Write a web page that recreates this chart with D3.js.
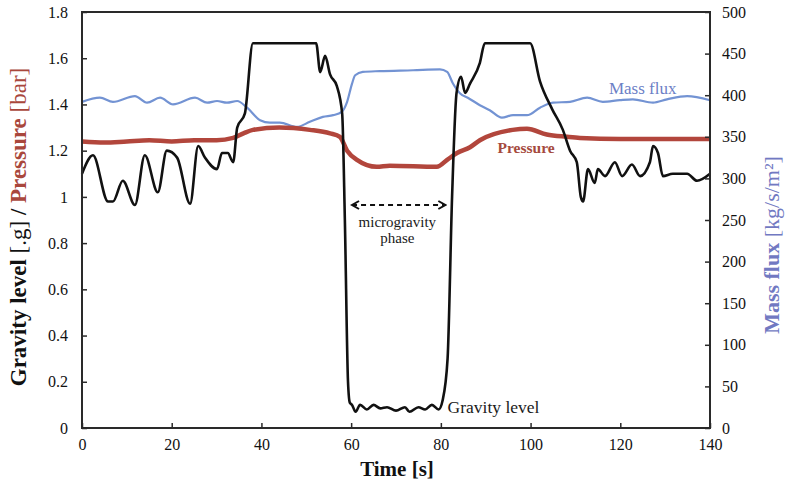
<!DOCTYPE html>
<html><head><meta charset="utf-8">
<script src="https://cdn.jsdelivr.net/npm/d3@7"></script>
<style>
html,body{margin:0;padding:0;background:#fff;}
svg{display:block;}
text{font-family:"Liberation Serif","Times New Roman",serif;}
</style></head>
<body><svg id="c" width="786" height="491"></svg>
<script>
// ---- data ----
const xTicks = [0,20,40,60,80,100,120,140];
const leftTicks = [0,0.2,0.4,0.6,0.8,1,1.2,1.4,1.6,1.8];
const leftTickLabels = ["0","0.2","0.4","0.6","0.8","1","1.2","1.4","1.6","1.8"];
const rightTicks = [0,50,100,150,200,250,300,350,400,450,500];

// Gravity level [g] (left axis)
const gravityT = [0,2.45,5.8,6.9,9.1,11.8,14.0,16.9,18.9,21.2,24.1,25.9,27.4,30.1,31.2,32.5,33.7,34.6,36.3,38.1,
  52.2,53.1,54.2,55.3,56.8,58.0,58.6,59.3,59.7,60.2,61,62,63.5,65,66.5,68,70,72,73,75,76.5,78,79.5,80.4,
  81.5,82.5,83.5,84.5,85.4,86.5,88.7,89.8,99.9,102.1,104.8,107.2,108.8,110.3,111.2,111.7,112.8,114.3,115.0,
  116.6,118.8,120.4,122.6,124.4,126.6,127.3,128.4,129.5,131.7,134.9,137.1,140];
const gravityV = [1.10,1.18,0.98,0.98,1.07,0.965,1.18,1.02,1.20,1.17,0.97,1.22,1.17,1.12,1.19,1.19,1.15,1.30,1.36,1.665,
  1.665,1.54,1.61,1.53,1.48,1.36,0.9,0.2,0.11,0.10,0.07,0.10,0.08,0.10,0.085,0.09,0.075,0.09,0.07,0.09,0.08,0.10,0.08,0.12,
  0.3,1.0,1.45,1.52,1.45,1.49,1.58,1.665,1.665,1.50,1.38,1.29,1.20,1.15,1.0,0.98,1.12,1.06,1.12,
  1.09,1.15,1.09,1.14,1.09,1.15,1.22,1.19,1.09,1.10,1.10,1.07,1.10];

// Pressure [bar] (left axis)
const pressureT = [0,5,10,15,20,25,30,33.7,36,38.1,44,50.8,55.3,57.5,59.1,61.3,65.7,68.6,79.1,81.4,83.6,86.5,88.7,96,99.2,103.6,108.1,111,120,130,140];
const pressureV = [1.24,1.235,1.24,1.245,1.24,1.245,1.245,1.255,1.275,1.29,1.30,1.29,1.275,1.26,1.20,1.16,1.13,1.135,1.13,1.16,1.19,1.215,1.245,1.29,1.295,1.27,1.26,1.255,1.25,1.25,1.25];

// Mass flux [kg/s/m2] (right axis)
const massT = [0,4.0,6.9,11.8,14.5,17.4,20.3,25.2,27.9,30.1,32.3,34.6,36.8,39.7,41.9,44.1,47.9,50.8,53.7,56.0,57.9,59.1,60.2,60.9,62.6,66.4,73.8,79.8,81.4,82.7,84.3,86.0,88.7,90.9,93.6,96.1,99.2,102.1,105.0,108.8,112.6,116.1,119.9,122.8,127.3,130.4,134.9,140];
const massV = [392,397,392,399,391,397,389,397,391,393,391,393,385,370,367,367,362,368,374,376,380,392,414,424,428,429,430,431,428,414,402,397,388,382,373,376,376,385,391,392,397,392,394,395,391,395,399,394];

// ---- chart ----
const svg = d3.select("#c");
const L = 82, R = 710, T = 12, B = 428;
const x = d3.scaleLinear().domain([0,140]).range([L,R]);
const yL = d3.scaleLinear().domain([0,1.8]).range([B,T]);
const yR = d3.scaleLinear().domain([0,500]).range([B,T]);

const toPts = (ts, vs) => ts.map((t,i)=>[t,vs[i]]);

const lineL = d3.line().curve(d3.curveMonotoneX).x(d=>x(d[0])).y(d=>yL(d[1]));
const lineR = d3.line().curve(d3.curveMonotoneX).x(d=>x(d[0])).y(d=>yR(d[1]));

const plot = svg.append("g");
plot.append("path").datum(toPts(massT,massV)).attr("d",lineR)
  .attr("fill","none").attr("stroke","#7393d3").attr("stroke-width",2.2).attr("stroke-linejoin","round");
plot.append("path").datum(toPts(pressureT,pressureV)).attr("d",lineL)
  .attr("fill","none").attr("stroke","#b2463c").attr("stroke-width",4.5).attr("stroke-linejoin","round");
plot.append("path").datum(toPts(gravityT,gravityV)).attr("d",lineL)
  .attr("fill","none").attr("stroke","#111").attr("stroke-width",2.6).attr("stroke-linejoin","round");

// frame
svg.append("rect").attr("x",L).attr("y",T).attr("width",R-L).attr("height",B-T)
  .attr("fill","none").attr("stroke","#2a2a2a").attr("stroke-width",2);

const styleAxis = g => {
  g.select(".domain").remove();
  g.selectAll(".tick line").attr("stroke","#2a2a2a").attr("stroke-width",1.5);
  g.selectAll(".tick text").attr("font-family","Liberation Serif, serif").attr("font-size",16).attr("fill","#111");
};

svg.append("g").attr("transform",`translate(0,${B})`)
  .call(d3.axisBottom(x).tickValues(xTicks).tickSizeInner(-5).tickSizeOuter(0).tickPadding(11))
  .call(styleAxis);
svg.append("g").attr("transform",`translate(${L},0)`)
  .call(d3.axisLeft(yL).tickValues(leftTicks).tickFormat((d,i)=>leftTickLabels[i]).tickSizeInner(-5).tickSizeOuter(0).tickPadding(14))
  .call(styleAxis);
svg.append("g").attr("transform",`translate(${R},0)`)
  .call(d3.axisRight(yR).tickValues(rightTicks).tickSizeInner(-5).tickSizeOuter(0).tickPadding(12))
  .call(styleAxis);

// axis titles
svg.append("text").attr("x",(L+R)/2+1).attr("y",476).attr("text-anchor","middle")
  .attr("font-size",21).attr("font-weight","bold").attr("fill","#111").text("Time [s]");

const lt = svg.append("text").attr("transform","translate(26,227) rotate(-90)").attr("text-anchor","middle").attr("font-size",23);
lt.append("tspan").attr("font-weight","bold").attr("fill","#111").text("Gravity level ");
lt.append("tspan").attr("fill","#111").text("[.g]");
lt.append("tspan").attr("font-weight","bold").attr("fill","#111").text(" / ");
lt.append("tspan").attr("font-weight","bold").attr("fill","#a9473c").text("Pressure ");
lt.append("tspan").attr("fill","#a9473c").text("[bar]");

const rt = svg.append("text").attr("transform","translate(779,245) rotate(-90)").attr("text-anchor","middle").attr("font-size",22);
rt.append("tspan").attr("font-weight","bold").attr("fill","#7179c2").text("Mass flux ");
rt.append("tspan").attr("fill","#7179c2").text("[kg/s/m²]");

// annotations
svg.append("text").attr("x",x(125)).attr("y",94).attr("text-anchor","middle")
  .attr("font-size",17).attr("fill","#6c80c6").text("Mass flux");
svg.append("text").attr("x",x(99)).attr("y",153).attr("text-anchor","middle")
  .attr("font-size",15.5).attr("font-weight","bold").attr("fill","#a54a3e").text("Pressure");
svg.append("text").attr("x",x(81.5)).attr("y",413).attr("text-anchor","start")
  .attr("font-size",17.5).attr("fill","#1a1a1a").text("Gravity level");
svg.append("text").attr("x",x(70.3)).attr("y",227).attr("text-anchor","middle")
  .attr("font-size",15).attr("fill","#1a1a1a").text("microgravity");
svg.append("text").attr("x",x(70.3)).attr("y",243).attr("text-anchor","middle")
  .attr("font-size",15).attr("fill","#1a1a1a").text("phase");

// dashed double arrow
const defs = svg.append("defs");
defs.append("marker").attr("id","ah").attr("viewBox","0 0 10 10").attr("refX",8).attr("refY",5)
  .attr("markerWidth",5).attr("markerHeight",5).attr("orient","auto-start-reverse")
  .append("path").attr("d","M1,1 L8,5 L1,9").attr("fill","none").attr("stroke","#111").attr("stroke-width",2);
svg.append("line").attr("x1",x(60.2)).attr("x2",x(81.0)).attr("y1",205).attr("y2",205)
  .attr("stroke","#111").attr("stroke-width",2).attr("stroke-dasharray","5,4")
  .attr("marker-start","url(#ah)").attr("marker-end","url(#ah)");
</script></body></html>
